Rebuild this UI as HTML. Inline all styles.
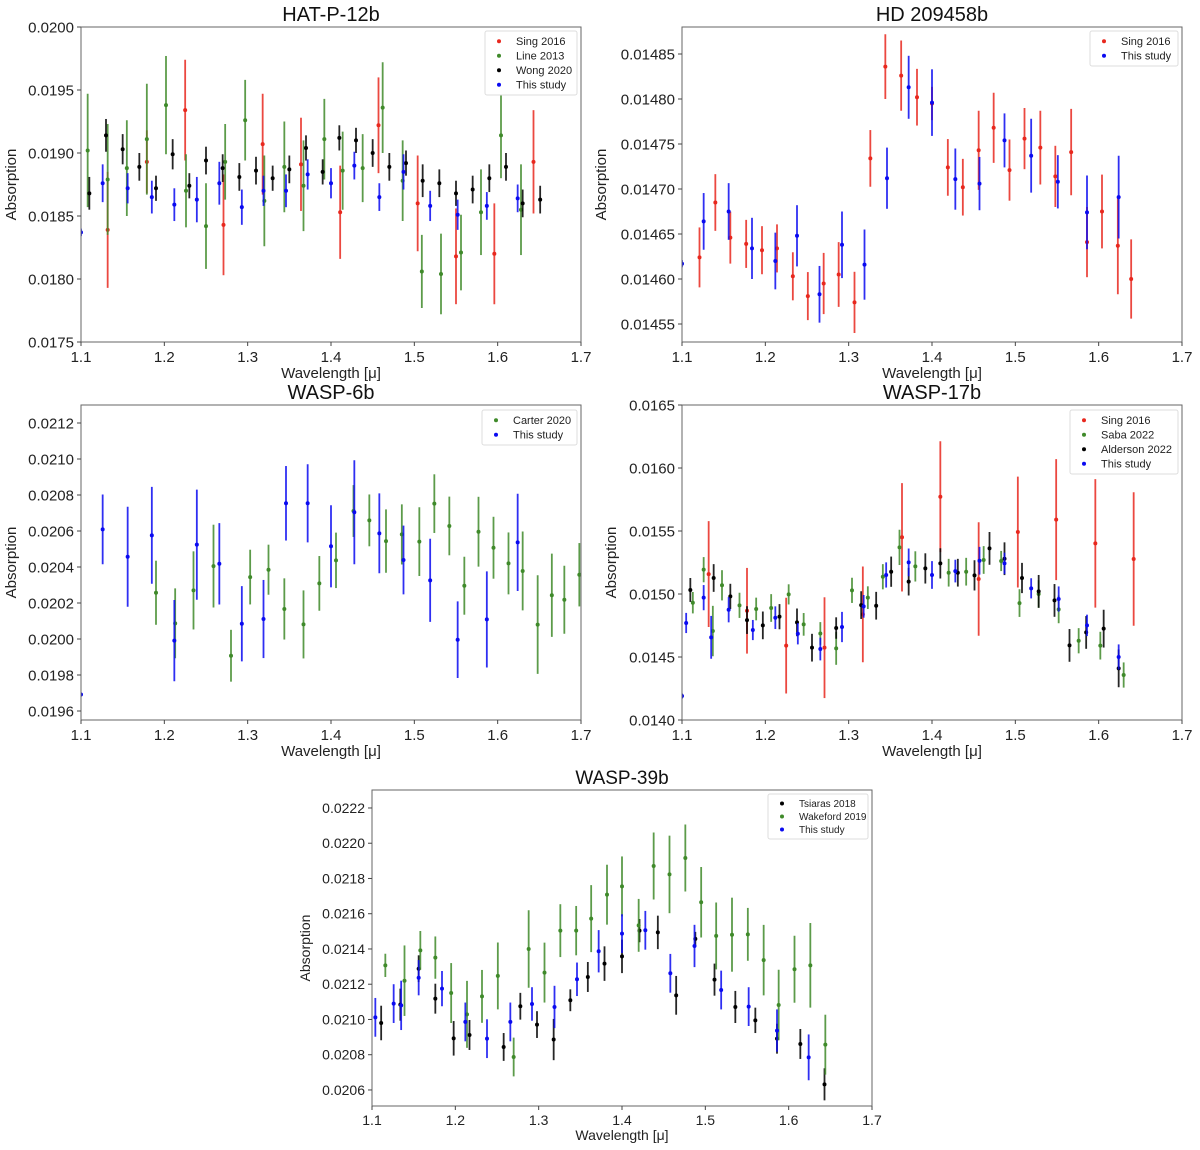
<!DOCTYPE html>
<html><head><meta charset="utf-8"><style>
body{margin:0;background:#fff;}
svg{display:block;font-family:"Liberation Sans",sans-serif;}
</style></head><body>
<svg id="fig" width="1200" height="1150" viewBox="0 0 1200 1150"></svg>
<script>
// ---------- HAT-P-12b ----------
const hatSingWave=[1.132,1.179,1.225,1.271,1.318,1.364,1.411,1.457,1.504,1.550,1.596,1.643];
const hatSingVal=[0.01839,0.01893,0.01934,0.01843,0.01907,0.01891,0.01853,0.01922,0.01860,0.01818,0.01820,0.01893];
const hatSingErr=[0.00046,0.00025,0.0004,0.0004,0.0004,0.00037,0.00037,0.00038,0.00038,0.00038,0.0004,0.00041];
const hatLineWave=[1.108,1.132,1.155,1.179,1.202,1.226,1.250,1.273,1.297,1.320,1.344,1.367,1.392,1.414,1.438,1.462,1.486,1.509,1.532,1.556,1.580,1.604,1.628];
const hatLineVal=[0.01902,0.01879,0.01888,0.01911,0.01938,0.01870,0.01842,0.01893,0.01926,0.01862,0.01889,0.01874,0.01911,0.01886,0.01888,0.01936,0.01878,0.01806,0.01804,0.01821,0.01853,0.01914,0.01855];
const hatLineErr=[0.00045,0.00044,0.00038,0.00044,0.00039,0.00029,0.00034,0.0003,0.00032,0.00036,0.00036,0.00036,0.00032,0.00031,0.00027,0.00036,0.00032,0.00029,0.00032,0.0003,0.00034,0.00034,0.00036];
const hatWongWave=[1.110,1.130,1.150,1.170,1.190,1.210,1.230,1.250,1.270,1.290,1.310,1.330,1.350,1.370,1.390,1.410,1.430,1.450,1.470,1.490,1.510,1.530,1.550,1.570,1.590,1.610,1.630,1.651];
const hatWongVal=[0.01868,0.01914,0.01903,0.01889,0.01872,0.01899,0.01874,0.01894,0.01888,0.01881,0.01886,0.01880,0.01887,0.01904,0.01885,0.01912,0.01910,0.01900,0.01889,0.01892,0.01878,0.01876,0.01868,0.01871,0.01880,0.01889,0.01860,0.01863];
const hatWongErr=[0.00013,0.00013,0.00012,0.00011,0.0001,0.00012,0.0001,0.00011,0.00011,0.00011,0.00011,0.0001,0.00011,0.0001,0.0001,0.0001,0.0001,0.00011,0.00011,0.0001,0.00013,0.00011,0.0001,0.00011,0.00011,0.00011,0.00011,0.00011];
const hatStudyWave=[1.100,1.126,1.156,1.185,1.212,1.239,1.266,1.293,1.319,1.346,1.372,1.400,1.428,1.458,1.487,1.519,1.552,1.587,1.624];
const hatStudyVal=[0.01837,0.01876,0.01872,0.01865,0.01859,0.01863,0.01876,0.01857,0.01870,0.01870,0.01883,0.01876,0.01890,0.01865,0.01885,0.01858,0.01851,0.01858,0.01864];
const hatStudyErr=[0.00003,0.00015,0.00012,0.00013,0.00013,0.00018,0.00017,0.00014,0.00012,0.00013,0.00012,0.00012,0.00011,0.00011,0.00014,0.00012,0.00012,0.00011,0.00011];
const hatTicks=["0.0175","0.0180","0.0185","0.0190","0.0195","0.0200"];
// ---------- HD 209458b ----------
const hdSingWave=[1.121,1.140,1.158,1.177,1.196,1.214,1.233,1.251,1.270,1.288,1.307,1.326,1.344,1.363,1.382,1.400,1.419,1.437,1.456,1.474,1.493,1.511,1.530,1.548,1.567,1.586,1.604,1.623,1.639];
const hdSingVal=[0.014624,0.014685,0.014646,0.014639,0.014632,0.014634,0.014603,0.014581,0.014595,0.014605,0.014574,0.014734,0.014836,0.014826,0.014802,0.014795,0.014724,0.014702,0.014743,0.014768,0.014721,0.014756,0.014746,0.014714,0.014741,0.014641,0.014675,0.014637,0.014600];
const hdSingErr=[0.0000333,0.0000315,0.0000289,0.0000267,0.0000267,0.0000267,0.0000267,0.0000267,0.000034,0.000036,0.000034,0.0000315,0.000036,0.000039,0.0000315,0.0000185,0.0000315,0.0000315,0.000044,0.000039,0.000034,0.000034,0.000041,0.000034,0.000048,0.000039,0.000041,0.000054,0.000044];
const hdStudyWave=[1.100,1.126,1.156,1.184,1.212,1.238,1.265,1.292,1.319,1.346,1.372,1.400,1.428,1.457,1.487,1.519,1.551,1.586,1.624];
const hdStudyVal=[0.014617,0.014664,0.014675,0.014634,0.014620,0.014648,0.014583,0.014638,0.014616,0.014712,0.014813,0.014796,0.014711,0.014706,0.014754,0.014737,0.014708,0.014674,0.014691];
const hdStudyErr=[0.000004,0.0000315,0.0000315,0.000034,0.0000315,0.000034,0.0000315,0.000037,0.000039,0.000034,0.000035,0.000037,0.000034,0.0000296,0.00003,0.000041,0.0000296,0.000041,0.000046];
const hdTicks=["0.01455","0.01460","0.01465","0.01470","0.01475","0.01480","0.01485"];
// ---------- WASP-6b ----------
const w6StudyWave=[1.100,1.126,1.156,1.185,1.212,1.239,1.266,1.293,1.319,1.346,1.372,1.400,1.428,1.458,1.487,1.519,1.552,1.587,1.624];
const w6StudyVal=[0.019692,0.020609,0.020457,0.020576,0.019991,0.020524,0.020418,0.020085,0.020111,0.020754,0.020754,0.020515,0.020704,0.020587,0.020439,0.020326,0.019996,0.020109,0.020537];
const w6StudyErr=[0.00001,0.000194,0.000278,0.000269,0.000226,0.000306,0.000226,0.000209,0.000217,0.000207,0.000217,0.000228,0.000289,0.000222,0.000191,0.000231,0.000213,0.000267,0.00027];
const w6CarterWave=[1.190,1.213,1.235,1.259,1.280,1.303,1.325,1.344,1.367,1.386,1.406,1.427,1.446,1.466,1.485,1.506,1.524,1.542,1.560,1.577,1.595,1.613,1.630,1.648,1.665,1.680,1.698];
const w6CarterVal=[0.020257,0.020087,0.02027,0.020405,0.019907,0.020344,0.020385,0.020167,0.020081,0.020309,0.020437,0.020711,0.020659,0.020544,0.020581,0.020541,0.020752,0.020628,0.020296,0.020596,0.020507,0.02042,0.020378,0.02008,0.020243,0.020218,0.020357];
const w6CarterErr=[0.000178,0.000194,0.000217,0.00023,0.000144,0.000152,0.000139,0.00017,0.000189,0.000152,0.000154,0.000144,0.000144,0.000176,0.000167,0.000191,0.000163,0.000163,0.000161,0.000194,0.000172,0.000172,0.000219,0.000274,0.000231,0.000189,0.000176];
const w6Ticks=["0.0196","0.0198","0.0200","0.0202","0.0204","0.0206","0.0208","0.0210","0.0212"];
// ---------- WASP-17b ----------
const w17SingWave=[1.132,1.178,1.225,1.271,1.317,1.364,1.410,1.456,1.503,1.549,1.596,1.642];
const w17SingVal=[0.015158,0.014867,0.01459,0.014574,0.014838,0.01545,0.015772,0.015119,0.015492,0.01559,0.015402,0.015278];
const w17SingErr=[0.00042,0.00034,0.00038,0.0004,0.00038,0.00043,0.00044,0.00045,0.00044,0.00048,0.00051,0.00053];
const w17SabaWave=[1.113,1.126,1.137,1.148,1.169,1.189,1.207,1.228,1.246,1.266,1.285,1.304,1.323,1.341,1.361,1.380,1.420,1.441,1.462,1.483,1.505,1.528,1.552,1.576,1.602,1.630];
const w17SabaVal=[0.014931,0.015193,0.014706,0.015069,0.01491,0.014881,0.014889,0.014997,0.014759,0.014687,0.014568,0.015029,0.014971,0.015137,0.01537,0.015219,0.015169,0.015177,0.01527,0.015262,0.014928,0.015,0.014878,0.014629,0.01459,0.014357];
const w17SabaErr=[0.000085,0.0001,0.0002,0.00012,0.0001,0.00009,0.00011,0.00008,0.00009,0.00009,0.00013,0.0001,0.00009,0.0001,0.00014,0.00012,0.00011,0.00011,0.00011,0.00008,0.00011,0.00011,0.00011,0.0001,0.00011,0.0001];
const w17AldWave=[1.110,1.138,1.158,1.178,1.197,1.217,1.238,1.256,1.285,1.315,1.333,1.351,1.372,1.392,1.410,1.431,1.451,1.469,1.487,1.508,1.528,1.547,1.565,1.585,1.606,1.624];
const w17AldVal=[0.015032,0.015127,0.014981,0.014793,0.014751,0.01482,0.014775,0.014574,0.01473,0.014912,0.014907,0.015177,0.015098,0.015203,0.015243,0.015169,0.015148,0.015362,0.01528,0.015127,0.015021,0.014949,0.014592,0.014695,0.014725,0.01441];
const w17AldErr=[0.000095,0.00011,0.0001,0.00011,0.00011,0.0001,0.00011,0.00011,0.000085,0.00011,0.00011,0.00012,0.00011,0.00012,0.00012,0.00011,0.00012,0.00013,0.00013,0.00012,0.00013,0.00013,0.00013,0.00013,0.00015,0.00015];
const w17StudyWave=[1.100,1.105,1.126,1.135,1.156,1.185,1.212,1.239,1.266,1.292,1.318,1.345,1.372,1.400,1.428,1.457,1.487,1.519,1.552,1.586,1.624];
const w17StudyVal=[0.01419,0.01477,0.014971,0.014656,0.014875,0.014714,0.014812,0.014685,0.014563,0.014738,0.014902,0.015151,0.015251,0.015151,0.015182,0.015264,0.015243,0.015045,0.01496,0.014751,0.0145];
const w17StudyErr=[0.00002,0.00008,0.0001,0.00017,0.0001,0.00008,0.00009,0.000085,0.00009,0.00012,0.00009,0.0001,0.00011,0.00011,0.00009,0.00011,0.000085,0.00008,0.0001,0.000085,0.0001];
const w17Ticks=["0.0140","0.0145","0.0150","0.0155","0.0160","0.0165"];
// ---------- WASP-39b ----------
const w39TsiWave=[1.111,1.134,1.156,1.176,1.198,1.217,1.258,1.278,1.298,1.318,1.338,1.359,1.379,1.400,1.421,1.443,1.465,1.488,1.511,1.536,1.560,1.586,1.614,1.643];
const w39TsiVal=[0.02098,0.021084,0.021288,0.021118,0.020893,0.020912,0.020844,0.021075,0.020971,0.020886,0.021109,0.021241,0.021317,0.021358,0.021504,0.021494,0.021137,0.021457,0.021226,0.021071,0.020995,0.020891,0.020861,0.020632];
const w39TsiErr=[0.000098,0.000091,0.000076,0.000085,0.000098,0.000085,0.000079,0.000076,0.000076,0.000117,0.000062,0.000085,0.000098,0.000095,0.000066,0.000095,0.00011,0.00004,0.000091,0.000091,0.000072,0.000085,0.000085,0.000091];
const w39WakWave=[1.116,1.139,1.158,1.176,1.195,1.214,1.232,1.251,1.270,1.288,1.307,1.326,1.345,1.363,1.382,1.400,1.420,1.438,1.457,1.476,1.495,1.513,1.532,1.551,1.570,1.588,1.607,1.626,1.644];
const w39WakVal=[0.021307,0.02122,0.021392,0.021351,0.02115,0.021029,0.021131,0.021247,0.020787,0.0214,0.021266,0.021504,0.021504,0.021572,0.021708,0.021755,0.021534,0.021871,0.021823,0.021916,0.021665,0.021474,0.021481,0.021483,0.021337,0.021082,0.021285,0.021307,0.020857];
const w39WakErr=[0.000066,0.0002,0.00011,0.00012,0.00017,0.00019,0.00015,0.00019,0.00011,0.00022,0.00017,0.00015,0.00014,0.00019,0.00017,0.00017,0.00015,0.00019,0.00022,0.00019,0.0002,0.00019,0.00021,0.00015,0.0002,0.0002,0.00019,0.00024,0.00017];
const w39StudyWave=[1.104,1.126,1.135,1.156,1.184,1.212,1.238,1.266,1.292,1.319,1.346,1.372,1.400,1.428,1.458,1.487,1.519,1.552,1.586,1.624];
const w39StudyVal=[0.021012,0.02109,0.02108,0.021237,0.021175,0.020986,0.020891,0.020986,0.021088,0.021071,0.021228,0.021387,0.021487,0.021506,0.021262,0.021417,0.021167,0.021073,0.020937,0.020785];
const w39StudyErr=[0.00011,0.00011,0.00014,0.0001,0.0001,0.00011,0.00011,0.00011,0.000095,0.00012,0.000095,0.00012,0.00011,0.00011,0.00011,0.00012,0.00011,0.00011,0.00012,0.00013];
const w39Ticks=["0.0206","0.0208","0.0210","0.0212","0.0214","0.0216","0.0218","0.0220","0.0222"];
const xTicks=["1.1","1.2","1.3","1.4","1.5","1.6","1.7"];

const RED="#e8281e",GREEN="#3f8a2a",BLUE="#0a0af0",BLACK="#000";
const NS="http://www.w3.org/2000/svg";
const svg=document.getElementById('fig');
function mk(tag,attrs,parent){const e=document.createElementNS(NS,tag);for(const k in attrs)e.setAttribute(k,attrs[k]);(parent||svg).appendChild(e);return e;}

function panel(cfg){
  const g=mk('g',{});
  
  
  const {x0,y0,w,h,ymin,ymax,fs}=cfg;
  const sx=v=>x0+(v-1.1)/0.6*w;
  const sy=v=>y0+h-(v-ymin)/(ymax-ymin)*h;
  const clip='c'+cfg.name;
  const cp=mk('clipPath',{id:clip},g);mk('rect',{x:x0,y:y0,width:w,height:h},cp);
  const plot=mk('g',{'clip-path':'url(#'+clip+')'},g);
  
  
  cfg.series.forEach(s=>{
    const sg=mk('g',{},plot);
    
    
    s.wave.forEach((wv,i)=>{
      const cx=sx(wv),cy=sy(s.val[i]);
      const ln=mk('line',{x1:cx,x2:cx,y1:sy(s.val[i]+s.err[i]),y2:sy(s.val[i]-s.err[i]),stroke:s.color,'stroke-width':1.8,'stroke-opacity':0.85},sg);
      
      
      const c=mk('circle',{cx:cx,cy:cy,r:2,fill:s.color},sg);
      
      
    });
  });
  const frame=mk('rect',{x:x0,y:y0,width:w,height:h,fill:'none',stroke:'#666','stroke-width':1},g);
  
  
  cfg.ticks.forEach(t=>{
    const yy=sy(parseFloat(t));
    mk('line',{x1:x0-4,x2:x0,y1:yy,y2:yy,stroke:'#444'},g);
    const tx=mk('text',{x:x0-7,y:yy+fs*0.35,'font-size':fs,'text-anchor':'end',fill:'#222'},g);
    tx.textContent=t;
    
    
  });
  xTicks.forEach(t=>{
    const xx=sx(parseFloat(t));
    mk('line',{x1:xx,x2:xx,y1:y0+h,y2:y0+h+4,stroke:'#444'},g);
    const tx=mk('text',{x:xx,y:y0+h+5+fs,'font-size':fs,'text-anchor':'middle',fill:'#222'},g);
    tx.textContent=t;
    
    
  });
  const xl=mk('text',{x:x0+w/2,y:y0+h+cfg.xlOff,'font-size':fs,'text-anchor':'middle',fill:'#222'},g);
  xl.textContent='Wavelength [\u03bc]';
  
  
  const yl=mk('text',{x:0,y:0,'font-size':fs,'text-anchor':'middle',fill:'#222',transform:`translate(${cfg.ylx},${y0+h/2}) rotate(-90)`},g);
  yl.textContent='Absorption';
  
  
  const ti=mk('text',{x:x0+w/2,y:y0-6,'font-size':cfg.tfs,'text-anchor':'middle',fill:'#111'},g);
  ti.textContent=cfg.title;
  
  
  const L=cfg.legend;
  const lg=mk('g',{},g);
  
  
  mk('rect',{x:L.x,y:L.y,width:L.w,height:cfg.series.length*L.dy+6,fill:'#fff',stroke:'#ddd',rx:2},lg);
  cfg.series.forEach((s,i)=>{
    const yy=L.y+3+L.dy*(i+0.5);
    const e=mk('g',{},lg);
    
    
    mk('circle',{cx:L.x+14,cy:yy,r:2,fill:s.color},e);
    const t=mk('text',{x:L.x+31,y:yy+L.fs*0.35,'font-size':L.fs,fill:'#222'},e);
    t.textContent=s.label;
  });
}

panel({name:'hat-p-12b',title:'HAT-P-12b',x0:81,y0:27,w:500,h:315,ymin:0.0175,ymax:0.0200,fs:15,tfs:20,xlOff:36,ylx:16,ticks:hatTicks,
  legend:{x:485,y:31,w:92,dy:14.5,fs:11},
  series:[{key:'sing-2016',label:'Sing 2016',color:RED,wave:hatSingWave,val:hatSingVal,err:hatSingErr},
          {key:'line-2013',label:'Line 2013',color:GREEN,wave:hatLineWave,val:hatLineVal,err:hatLineErr},
          {key:'wong-2020',label:'Wong 2020',color:BLACK,wave:hatWongWave,val:hatWongVal,err:hatWongErr},
          {key:'this-study',label:'This study',color:BLUE,wave:hatStudyWave,val:hatStudyVal,err:hatStudyErr}]});
panel({name:'hd-209458b',title:'HD 209458b',x0:682,y0:27,w:500,h:315,ymin:0.014530,ymax:0.014880,fs:15,tfs:20,xlOff:36,ylx:606,ticks:hdTicks,
  legend:{x:1090,y:31,w:88,dy:14.5,fs:11},
  series:[{key:'sing-2016',label:'Sing 2016',color:RED,wave:hdSingWave,val:hdSingVal,err:hdSingErr},
          {key:'this-study',label:'This study',color:BLUE,wave:hdStudyWave,val:hdStudyVal,err:hdStudyErr}]});
panel({name:'wasp-6b',title:'WASP-6b',x0:81,y0:405,w:500,h:315,ymin:0.01955,ymax:0.0213,fs:15,tfs:20,xlOff:36,ylx:16,ticks:w6Ticks,
  legend:{x:482,y:410,w:95,dy:14.5,fs:11},
  series:[{key:'carter-2020',label:'Carter 2020',color:GREEN,wave:w6CarterWave,val:w6CarterVal,err:w6CarterErr},
          {key:'this-study',label:'This study',color:BLUE,wave:w6StudyWave,val:w6StudyVal,err:w6StudyErr}]});
panel({name:'wasp-17b',title:'WASP-17b',x0:682,y0:405,w:500,h:315,ymin:0.0140,ymax:0.0165,fs:15,tfs:20,xlOff:36,ylx:616,ticks:w17Ticks,
  legend:{x:1070,y:410,w:108,dy:14.5,fs:11},
  series:[{key:'sing-2016',label:'Sing 2016',color:RED,wave:w17SingWave,val:w17SingVal,err:w17SingErr},
          {key:'saba-2022',label:'Saba 2022',color:GREEN,wave:w17SabaWave,val:w17SabaVal,err:w17SabaErr},
          {key:'alderson-2022',label:'Alderson 2022',color:BLACK,wave:w17AldWave,val:w17AldVal,err:w17AldErr},
          {key:'this-study',label:'This study',color:BLUE,wave:w17StudyWave,val:w17StudyVal,err:w17StudyErr}]});
panel({name:'wasp-39b',title:'WASP-39b',x0:372,y0:790,w:500,h:316,ymin:0.020509,ymax:0.022302,fs:14,tfs:19,xlOff:34,ylx:310,ticks:w39Ticks,
  legend:{x:768,y:794,w:100,dy:13,fs:10},
  series:[{key:'tsiaras-2018',label:'Tsiaras 2018',color:BLACK,wave:w39TsiWave,val:w39TsiVal,err:w39TsiErr},
          {key:'wakeford-2019',label:'Wakeford 2019',color:GREEN,wave:w39WakWave,val:w39WakVal,err:w39WakErr},
          {key:'this-study',label:'This study',color:BLUE,wave:w39StudyWave,val:w39StudyVal,err:w39StudyErr}]});
</script>
</body></html>
